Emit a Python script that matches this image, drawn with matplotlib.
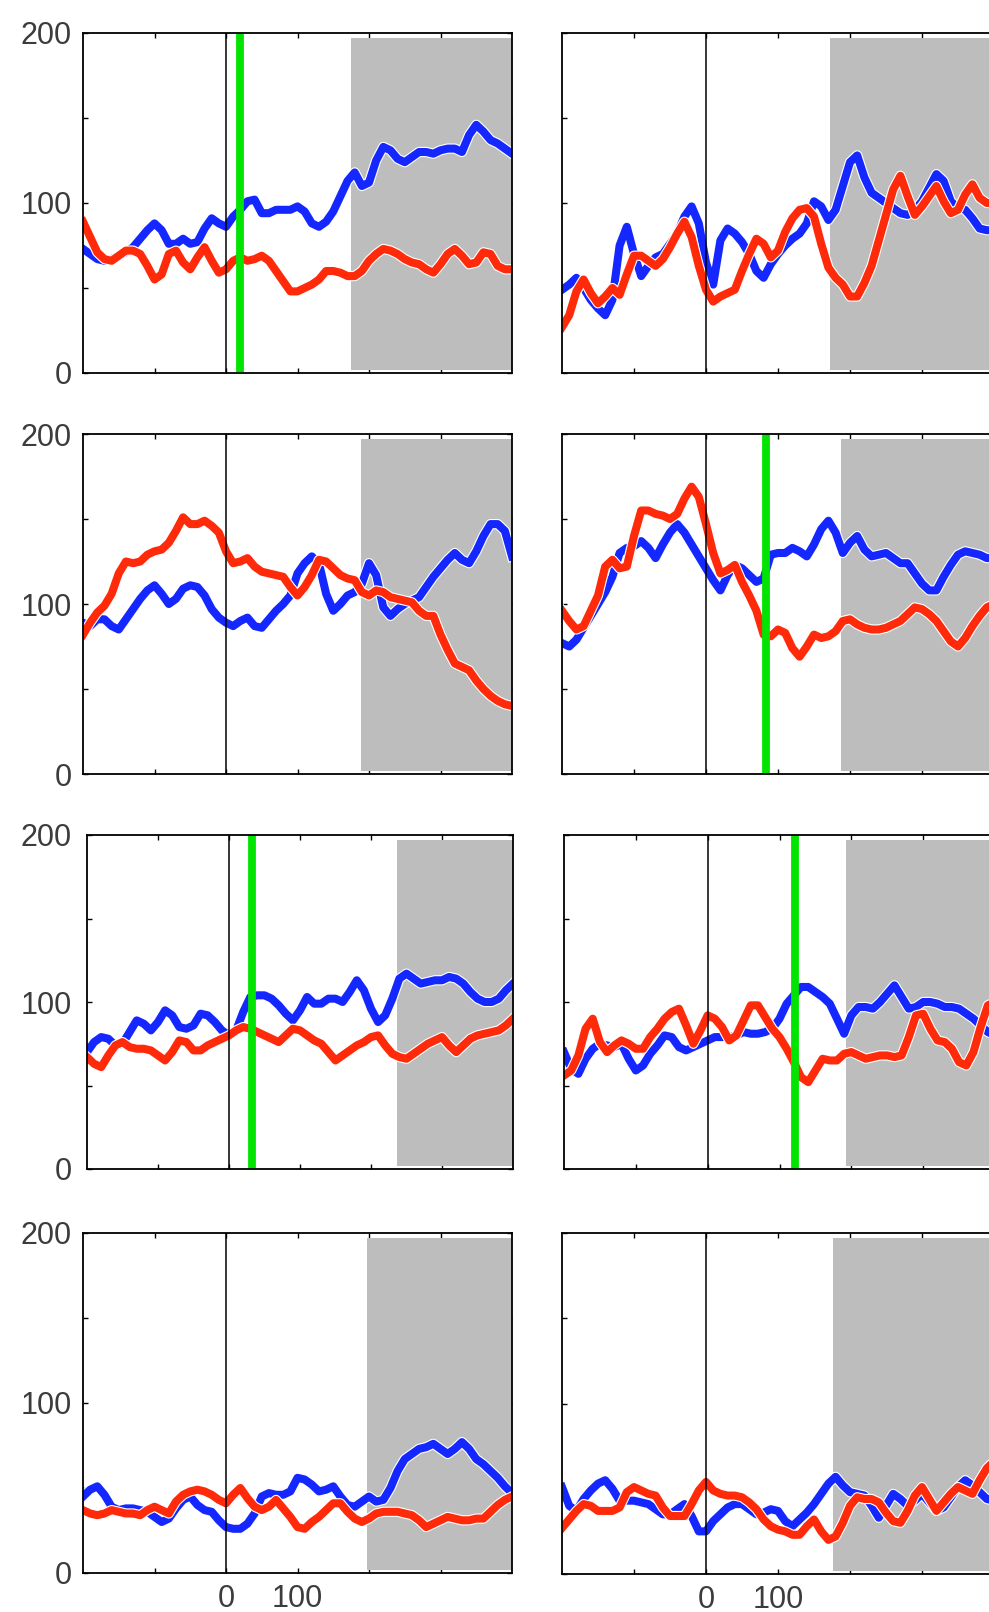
import numpy as np
import matplotlib
matplotlib.use("Agg")
import matplotlib.pyplot as plt
import matplotlib.patheffects as pe
from matplotlib.patches import Rectangle

# time axis (ms) shared by every trace
time_ms = np.arange(-200, 401, 10)

# ---- row 1 ----
blue_1L = [73, 70, 67, 66, 67, 69, 71, 74, 79, 84,
           88, 84, 76, 76, 79, 76, 77, 85, 91, 88,
           86, 92, 96, 101, 102, 94, 94, 96, 96, 96,
           98, 95, 88, 86, 89, 95, 104, 113, 118, 110,
           112, 125, 133, 131, 126, 124, 127, 130, 130, 129,
           131, 132, 132, 130, 140, 146, 142, 137, 135, 132,
           129]
red_1L = [89, 80, 71, 67, 66, 69, 72, 72, 70, 63,
          55, 58, 70, 72, 65, 61, 68, 74, 66, 59,
          61, 66, 68, 66, 67, 69, 66, 60, 54, 48,
          48, 50, 52, 55, 60, 60, 59, 57, 57, 60,
          66, 70, 73, 72, 70, 67, 65, 64, 61, 59,
          64, 70, 73, 69, 64, 65, 71, 70, 63, 61,
          61]
blue_1R = [49, 52, 56, 50, 43, 38, 34, 43, 75, 86,
           70, 57, 63, 68, 70, 76, 82, 92, 98, 88,
           65, 52, 78, 85, 82, 77, 70, 60, 56, 64,
           70, 75, 79, 82, 88, 101, 98, 90, 96, 110,
           124, 128, 115, 106, 103, 100, 97, 94, 93, 96,
           101, 109, 117, 113, 101, 97, 96, 91, 85, 84,
           84]
red_1R = [27, 34, 48, 55, 47, 41, 45, 50, 46, 58,
          69, 69, 66, 63, 67, 74, 82, 89, 80, 63,
          49, 42, 45, 47, 49, 60, 70, 79, 76, 68,
          72, 83, 91, 96, 97, 92, 76, 62, 56, 52,
          45, 45, 53, 63, 78, 93, 108, 116, 104, 93,
          98, 104, 110, 101, 94, 96, 105, 111, 103, 100,
          100]

# ---- row 2 ----
blue_2L = [89, 87, 91, 91, 87, 85, 91, 97, 103, 108,
           111, 106, 100, 103, 109, 111, 110, 105, 97, 92,
           89, 87, 90, 92, 87, 86, 91, 96, 100, 105,
           118, 124, 128, 124, 106, 96, 100, 105, 107, 112,
           124, 117, 98, 93, 97, 100, 102, 104, 110, 116,
           121, 126, 130, 126, 124, 131, 140, 147, 147, 143,
           128]
red_2L = [82, 89, 95, 99, 106, 118, 125, 124, 125, 129,
          131, 132, 136, 143, 151, 147, 147, 149, 146, 142,
          131, 124, 125, 127, 122, 119, 118, 117, 116, 110,
          105, 110, 117, 126, 125, 121, 117, 115, 114, 107,
          105, 108, 107, 104, 103, 102, 101, 96, 93, 93,
          82, 73, 65, 63, 61, 55, 50, 46, 43, 41,
          40]
blue_2R = [77, 75, 79, 86, 93, 100, 107, 116, 130, 133,
           134, 137, 133, 127, 135, 142, 147, 142, 135, 128,
           121, 114, 108, 117, 123, 121, 117, 113, 115, 129,
           130, 130, 133, 131, 128, 135, 144, 149, 142, 130,
           136, 140, 132, 128, 129, 130, 127, 124, 124, 118,
           112, 108, 108, 116, 123, 129, 131, 130, 129, 127,
           127]
red_2R = [96, 90, 85, 87, 96, 105, 122, 126, 121, 122,
          140, 155, 155, 153, 152, 150, 153, 162, 169, 163,
          147, 130, 118, 120, 123, 113, 105, 96, 82, 81,
          85, 83, 74, 69, 75, 82, 80, 81, 84, 90,
          91, 88, 86, 85, 85, 86, 88, 90, 94, 98,
          97, 94, 90, 84, 78, 75, 80, 87, 93, 98,
          100]

# ---- row 3 ----
blue_3L = [70, 76, 79, 78, 74, 75, 82, 89, 87, 83,
           88, 95, 92, 85, 84, 86, 93, 92, 88, 83,
           80, 83, 94, 103, 104, 104, 102, 98, 93, 89,
           95, 103, 99, 99, 102, 102, 100, 106, 113, 107,
           96, 88, 92, 102, 114, 117, 114, 111, 112, 113,
           113, 115, 114, 111, 106, 102, 100, 100, 102, 107,
           111]
red_3L = [67, 63, 61, 68, 74, 76, 73, 72, 72, 71,
          68, 65, 70, 77, 76, 71, 71, 74, 76, 78,
          80, 83, 85, 84, 82, 80, 78, 76, 80, 84,
          83, 80, 77, 75, 70, 65, 68, 71, 74, 76,
          79, 80, 74, 69, 67, 66, 69, 72, 75, 77,
          79, 74, 70, 74, 78, 80, 81, 82, 83, 86,
          90]
blue_3R = [70, 60, 57, 66, 72, 75, 74, 73, 75, 66,
           59, 62, 69, 74, 80, 79, 73, 71, 73, 75,
           77, 79, 79, 79, 80, 82, 81, 81, 82, 84,
           90, 99, 104, 109, 109, 106, 103, 99, 90, 81,
           92, 97, 97, 96, 100, 105, 110, 103, 96, 97,
           100, 100, 99, 97, 97, 96, 93, 90, 86, 82,
           80]
red_3R = [56, 59, 68, 84, 90, 76, 70, 74, 77, 75,
          72, 72, 79, 84, 90, 94, 96, 86, 75, 83,
          92, 90, 85, 77, 80, 89, 98, 98, 91, 84,
          79, 72, 64, 55, 52, 59, 66, 65, 65, 69,
          70, 68, 66, 67, 68, 68, 67, 68, 79, 92,
          93, 84, 77, 76, 72, 64, 62, 70, 85, 98,
          100]

# ---- row 4 ----
blue_4L = [45, 49, 51, 46, 39, 37, 38, 38, 37, 36,
           33, 30, 32, 38, 43, 45, 40, 37, 36, 31,
           27, 26, 26, 29, 35, 45, 47, 46, 46, 48,
           56, 55, 52, 48, 49, 51, 45, 40, 39, 42,
           45, 42, 43, 50, 60, 67, 70, 73, 74, 76,
           73, 70, 73, 77, 73, 67, 64, 60, 56, 51,
           47]
red_4L = [37, 35, 34, 35, 37, 36, 35, 35, 34, 37,
          39, 37, 35, 42, 46, 48, 49, 48, 46, 43,
          41, 46, 50, 44, 39, 37, 39, 43, 38, 33,
          27, 26, 30, 33, 37, 41, 41, 36, 32, 30,
          32, 35, 36, 36, 36, 35, 34, 31, 27, 29,
          31, 33, 32, 31, 31, 32, 32, 36, 40, 43,
          45]
blue_4R = [51, 40, 37, 44, 49, 53, 55, 50, 43, 43,
           43, 42, 41, 38, 35, 35, 38, 41, 34, 25,
           25, 31, 35, 39, 41, 41, 38, 35, 36, 38,
           37, 31, 28, 32, 36, 41, 47, 53, 57, 52,
           48, 47, 46, 40, 33, 40, 47, 44, 40, 43,
           47, 42, 37, 39, 45, 51, 55, 52, 48, 44,
           43]
red_4R = [27, 32, 37, 41, 40, 37, 37, 37, 39, 48,
          51, 49, 47, 46, 39, 34, 34, 34, 41, 49,
          54, 49, 47, 46, 46, 45, 42, 38, 32, 28,
          26, 25, 23, 23, 28, 32, 25, 20, 22, 30,
          40, 45, 44, 44, 42, 36, 31, 30, 37, 46,
          51, 44, 37, 42, 47, 51, 49, 47, 55, 62,
          66]

# onset of the shaded window and the marker time, per panel
shade_start = [175, 172, 189, 187, 236, 192, 197, 176]
marker_time = [20, None, None, 83, 32, 121, None, None]

y_ticks = [0, 50, 100, 150, 200]
y_tick_labels = ["0", "", "100", "", "200"]
x_ticks = [-100, 0, 100, 200, 300]
x_tick_labels = ["", "0", "100", "", ""]

BLUE = "#1427ff"
RED = "#ff2a0a"
GREEN = "#00e400"
SHADE = "#bdbdbd"
LABEL_COLOR = "#3c3c3c"

W, H = 989, 1612
fig = plt.figure(figsize=(W / 100, H / 100), dpi=100)

# panel frames in pixel units: (left, top, right, bottom)
frames = [
    (83, 33, 512, 373), (562, 33, 994, 373),
    (83, 434, 512, 774), (562, 434, 994, 774),
    (87, 835, 513, 1169), (564, 835, 995, 1169),
    (83, 1233, 512, 1573), (562, 1233, 994, 1574),
]
traces = [
    (blue_1L, red_1L), (blue_1R, red_1R),
    (blue_2L, red_2L), (blue_2R, red_2R),
    (blue_3L, red_3L), (blue_3R, red_3R),
    (blue_4L, red_4L), (blue_4R, red_4R),
]

halo = [pe.Stroke(linewidth=7.4, foreground="white"), pe.Normal()]

for i, ((l, t, r, b), (blue, red)) in enumerate(zip(frames, traces)):
    ax = fig.add_axes([l / W, 1 - b / H, (r - l) / W, (b - t) / H])
    ax.set_xlim(-200, 400)
    ax.set_ylim(0, 200)
    ax.set_axisbelow(True)

    s0 = shade_start[i]
    ax.add_patch(Rectangle((s0, 2), 400 - s0, 195, facecolor=SHADE,
                           edgecolor="none", zorder=1))

    ax.plot(time_ms, blue, color=BLUE, lw=5.8, zorder=3,
            solid_joinstyle="round", path_effects=halo)
    ax.plot(time_ms, red, color=RED, lw=5.8, zorder=3.1,
            solid_joinstyle="round", path_effects=halo)

    ax.axvline(0, color="black", lw=1.1, zorder=4)
    if marker_time[i] is not None:
        ax.axvline(marker_time[i], color=GREEN, lw=5.6, zorder=5)

    left_col = (i % 2 == 0)
    bottom_row = (i >= 6)
    ax.set_yticks(y_ticks)
    ax.set_yticklabels(y_tick_labels if left_col else [""] * len(y_ticks))
    ax.set_xticks(x_ticks)
    ax.set_xticklabels(x_tick_labels if bottom_row else [""] * len(x_ticks))

    ax.tick_params(direction="in", length=3.5, width=1.0, top=True,
                   right=True, colors="black", labelcolor=LABEL_COLOR,
                   labelsize=22, pad=8)
    if i == 4:
        ax.tick_params(axis="y", pad=11)
    for lab in ax.get_xticklabels() + ax.get_yticklabels():
        lab.set_fontfamily("Liberation Sans")
    for sp in ax.spines.values():
        sp.set_linewidth(1.3)
        sp.set_color("black")
        sp.set_zorder(6)

fig.savefig("out.png", dpi=100, facecolor="white")
